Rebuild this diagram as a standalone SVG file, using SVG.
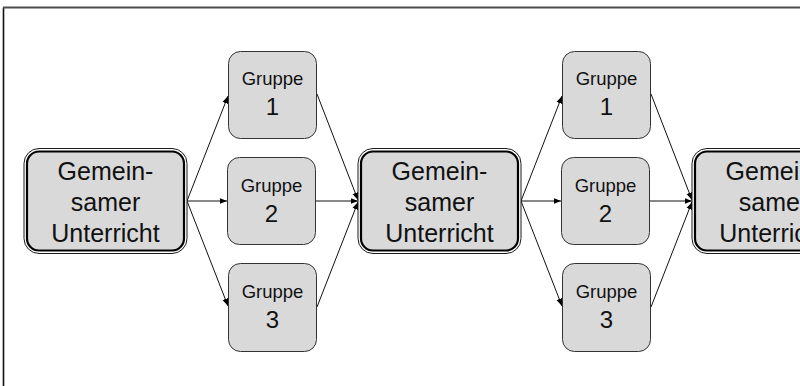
<svg xmlns="http://www.w3.org/2000/svg" width="800" height="386" viewBox="0 0 800 386">
  <defs>
    <marker id="arrow" markerWidth="9" markerHeight="9" refX="7.5" refY="4.5" orient="auto" markerUnits="userSpaceOnUse">
      <path d="M0,1.5 L7.5,4.5 L0,7.5 Z" fill="#000"/>
    </marker>
  </defs>
  <style>
    .big-outer { fill: #ffffff; stroke: #1a1a1a; stroke-width: 1; }
    .big-inner { fill: #d9d9d9; stroke: #000; stroke-width: 2.2; }
    .small { fill: #d9d9d9; stroke: #333; stroke-width: 1; }
    .big-text { font-family: "Liberation Sans", Arial, sans-serif; font-size: 25px; fill: #111; text-anchor: middle; }
    .grp { font-family: "Liberation Sans", Arial, sans-serif; font-size: 18.5px; fill: #111; text-anchor: middle; }
    .num { font-family: "Liberation Sans", Arial, sans-serif; font-size: 24px; fill: #111; text-anchor: middle; }
    .edge { fill: none; stroke: #111; stroke-width: 1; marker-end: url(#arrow); }
  </style>

  <rect width="800" height="386" fill="#fff"/>

  <!-- page frame -->
  <path d="M3.5,386 L3.5,7.5" stroke="#111" stroke-width="1.6" fill="none"/>
  <path d="M3,7.5 L800,7.5" stroke="#4d4d4d" stroke-width="2.2" fill="none"/>

  <!-- connectors -->
  <g id="connectors">
    <path class="edge" d="M187,201 L228,96"/>
    <path class="edge" d="M187,201 L227,201"/>
    <path class="edge" d="M187,201 L228,306"/>
    <path class="edge" d="M317,94 L358,200"/>
    <path class="edge" d="M316,201 L358,201"/>
    <path class="edge" d="M317,307 L358,202"/>
    <path class="edge" d="M521,201 L562,96"/>
    <path class="edge" d="M521,201 L561,201"/>
    <path class="edge" d="M521,201 L562,306"/>
    <path class="edge" d="M651,94 L692,200"/>
    <path class="edge" d="M650,201 L692,201"/>
    <path class="edge" d="M651,307 L692,202"/>
  </g>

  <!-- joint lessons -->
  <g id="unterricht-1">
    <rect class="big-outer" x="24" y="148.5" width="163" height="105" rx="15"/>
    <rect class="big-inner" x="27" y="151.5" width="157" height="99" rx="12"/>
    <text class="big-text" x="105.5" y="180">Gemein-</text>
    <text class="big-text" x="105.5" y="211">samer</text>
    <text class="big-text" x="105.5" y="242">Unterricht</text>
  </g>
  <g id="unterricht-2">
    <rect class="big-outer" x="358" y="148.5" width="163" height="105" rx="15"/>
    <rect class="big-inner" x="361" y="151.5" width="157" height="99" rx="12"/>
    <text class="big-text" x="439.5" y="180">Gemein-</text>
    <text class="big-text" x="439.5" y="211">samer</text>
    <text class="big-text" x="439.5" y="242">Unterricht</text>
  </g>
  <g id="unterricht-3">
    <rect class="big-outer" x="692" y="148.5" width="163" height="105" rx="15"/>
    <rect class="big-inner" x="695" y="151.5" width="157" height="99" rx="12"/>
    <text class="big-text" x="773.5" y="180">Gemein-</text>
    <text class="big-text" x="773.5" y="211">samer</text>
    <text class="big-text" x="773.5" y="242">Unterricht</text>
  </g>

  <!-- groups, first round -->
  <g id="gruppe-1a">
    <rect class="small" x="228.5" y="51.5" width="88" height="87" rx="12"/>
    <text class="grp" x="272.5" y="85">Gruppe</text>
    <text class="num" x="272.5" y="115">1</text>
  </g>
  <g id="gruppe-2a">
    <rect class="small" x="227.5" y="157.5" width="88" height="87" rx="12"/>
    <text class="grp" x="271.5" y="192">Gruppe</text>
    <text class="num" x="271.5" y="222">2</text>
  </g>
  <g id="gruppe-3a">
    <rect class="small" x="228.5" y="263.5" width="88" height="88" rx="12"/>
    <text class="grp" x="272.5" y="298">Gruppe</text>
    <text class="num" x="272.5" y="328">3</text>
  </g>

  <!-- groups, second round -->
  <g id="gruppe-1b">
    <rect class="small" x="562.5" y="51.5" width="88" height="87" rx="12"/>
    <text class="grp" x="606.5" y="85">Gruppe</text>
    <text class="num" x="606.5" y="115">1</text>
  </g>
  <g id="gruppe-2b">
    <rect class="small" x="561.5" y="157.5" width="88" height="87" rx="12"/>
    <text class="grp" x="605.5" y="192">Gruppe</text>
    <text class="num" x="605.5" y="222">2</text>
  </g>
  <g id="gruppe-3b">
    <rect class="small" x="562.5" y="263.5" width="88" height="88" rx="12"/>
    <text class="grp" x="606.5" y="298">Gruppe</text>
    <text class="num" x="606.5" y="328">3</text>
  </g>
</svg>
